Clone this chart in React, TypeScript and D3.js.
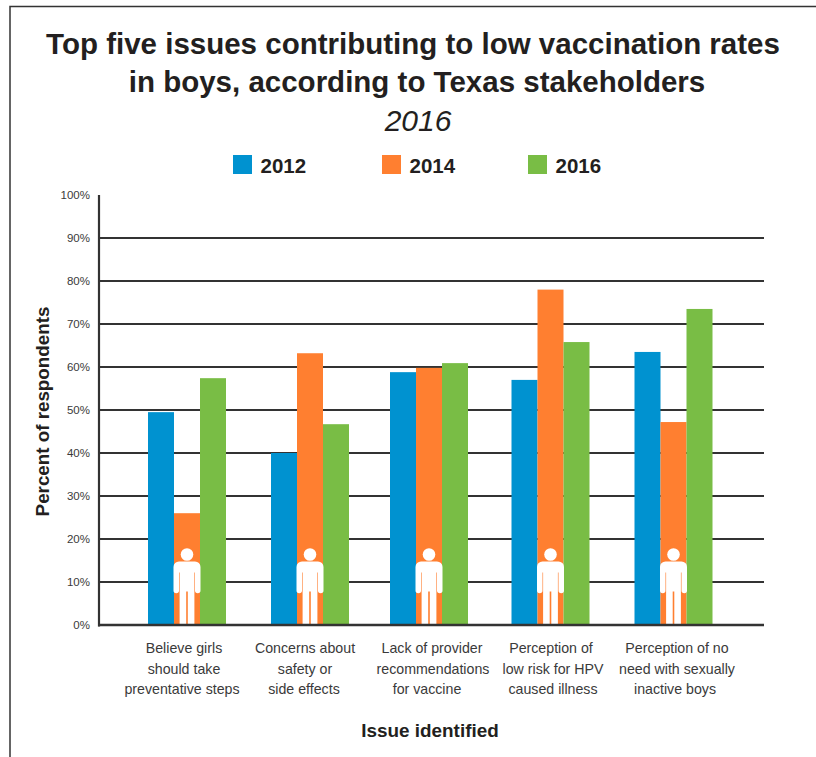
import React from "react";
import * as d3 from "d3";

const categories = [
  ["Believe girls", "should take", "preventative steps"],
  ["Concerns about", "safety or", "side effects"],
  ["Lack of provider", "recommendations", "for vaccine"],
  ["Perception of", "low risk for HPV", "caused illness"],
  ["Perception of no", "need with sexually", "inactive boys"],
];
const years = ["2012", "2014", "2016"];
const values2012 = [49.5, 40, 58.8, 57, 63.5];
const values2014 = [26, 63.2, 59.8, 78, 47.2];
const values2016 = [57.4, 46.7, 60.9, 65.8, 73.5];
const seriesValues = [values2012, values2014, values2016];
const yearColors = ["#0092d0", "#ff7f30", "#79bd45"];
const yTicks = d3.range(0, 101, 10);
const groupCentres = [187, 310, 429, 550.5, 673.5];
const labelCentres = [183, 305, 433, 553, 677];
const lineNudges = [
  [1, 1, -1],
  [0, 0, -1],
  [-1, 0, -6],
  [-2, 0, 0],
  [0, 0, -2],
];
const legendX = [233, 382, 528];

const FONT = "'Liberation Sans', Arial, Helvetica, sans-serif";
const INK = "#231f20";

const y = d3.scaleLinear().domain([0, 100]).range([625, 195]);
const groupX = d3.scaleOrdinal<number, number>().domain(d3.range(5)).range(groupCentres);
const labelX = d3.scaleOrdinal<number, number>().domain(d3.range(5)).range(labelCentres);
const yearX = d3.scaleBand<number>().domain(d3.range(3)).range([-39, 39]).padding(0);

// Small standing figure; origin at the centre of the feet line.
const figurePath =
  "M-8,-63 H8 A5.5,5.5 0 0 1 13.5,-57.5 V-34 A2.7,2.7 0 0 1 8,-34 V-52 H7.4 V0 H0.8 V-33 H-0.8 V0 H-7.4 V-52 H-8 V-34 A2.7,2.7 0 0 1 -13.5,-34 V-57.5 A5.5,5.5 0 0 1 -8,-63 Z";

export default function App() {
  return (
    <svg
      width={816}
      height={757}
      style={{ position: "absolute", left: 0, top: 0, background: "#fff" }}
      fontFamily={FONT}
    >
      {/* outer frame, open at the right and bottom */}
      <path d="M10,757 V6.5 H816" fill="none" stroke="#333" strokeWidth={1.5} />

      <g textAnchor="middle" fill={INK} fontWeight="bold" fontSize={29.5}>
        <text x={413} y={54}>Top five issues contributing to low vaccination rates</text>
        <text x={417} y={92}>in boys, according to Texas stakeholders</text>
      </g>
      <text x={418} y={131} textAnchor="middle" fontStyle="italic" fontSize={30} fill={INK}>2016</text>

      {years.map((yr, i) => (
        <g key={yr}>
          <rect x={legendX[i]} y={155} width={19} height={19} fill={yearColors[i]} />
          <text x={legendX[i] + 27.5} y={173} fontWeight="bold" fontSize={20.5} fill={INK}>{yr}</text>
        </g>
      ))}

      {/* gridlines */}
      {yTicks.slice(1, -1).map((t) => (
        <line key={t} x1={99} x2={764} y1={y(t)} y2={y(t)} stroke="#333" strokeWidth={1.8} />
      ))}
      {yTicks.map((t) => (
        <text key={t} x={90} y={y(t) + 4} textAnchor="end" fontSize={11.5} fill="#3a3a3a">{t}%</text>
      ))}

      {/* bars */}
      {seriesValues.map((vals, s) =>
        vals.map((v, c) => (
          <rect
            key={`${s}-${c}`}
            x={groupX(c) + yearX(s)!}
            y={y(v)}
            width={yearX.bandwidth()}
            height={y(0) - y(v)}
            fill={yearColors[s]}
          />
        ))
      )}

      {/* figure over each group */}
      {groupCentres.map((_, c) => (
        <g key={c} transform={`translate(${groupX(c)},${y(0) - 0.5})`} fill="#fff">
          <circle cx={0} cy={-70} r={6.3} />
          <path d={figurePath} />
        </g>
      ))}

      {/* axes */}
      <line x1={99} x2={99} y1={y(100)} y2={y(0) + 1.5} stroke="#333" strokeWidth={2.2} />
      <line x1={98} x2={764} y1={y(0)} y2={y(0)} stroke="#333" strokeWidth={2.4} />

      {categories.map((lines, c) => (
        <text key={c} textAnchor="middle" fontSize={14.2} fill="#3a3a3a">
          {lines.map((l, i) => (
            <tspan key={i} x={labelX(c) + lineNudges[c][i]} y={653 + i * 20.5}>{l}</tspan>
          ))}
        </text>
      ))}

      <text
        transform="translate(48.5,411.5) rotate(-90)"
        textAnchor="middle"
        fontWeight="bold"
        fontSize={18.8}
        fill={INK}
      >
        Percent of respondents
      </text>
      <text x={430} y={737} textAnchor="middle" fontWeight="bold" fontSize={18.9} fill={INK}>Issue identified</text>
    </svg>
  );
}
